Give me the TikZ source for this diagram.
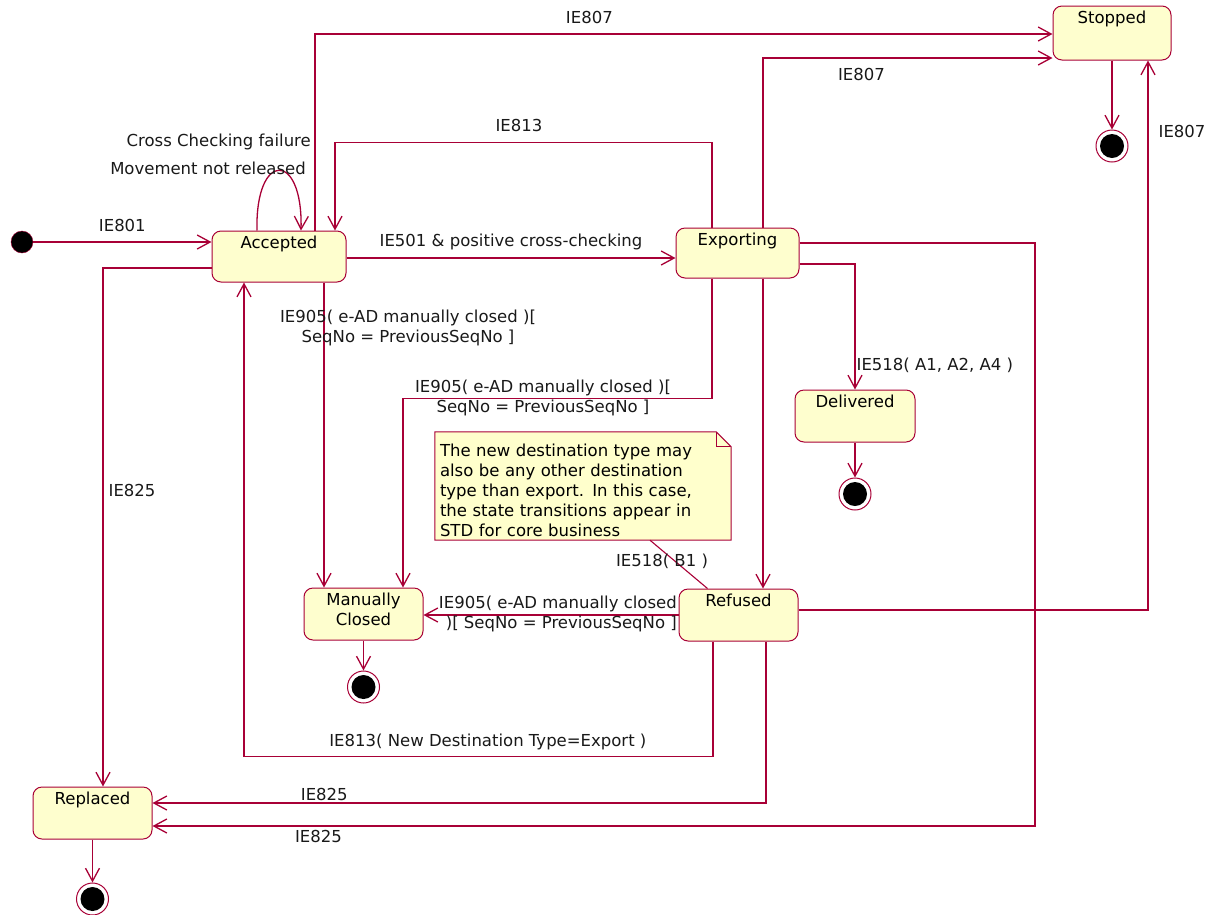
\documentclass[tikz,border=0pt]{standalone}
\usepackage{fontspec}
\setmainfont{DejaVu Sans}
\usepackage{tikz}
\usetikzlibrary{arrows.meta, positioning, calc, backgrounds}
\definecolor{umlred}{RGB}{168,0,54}
\definecolor{umlfill}{RGB}{254,254,206}
\definecolor{notefill}{RGB}{255,255,204}
\tikzset{
  basefont/.style={font=\fontsize{16.5}{20}\selectfont},
  statebox/.style={rectangle,rounded corners=9pt,draw=umlred,fill=umlfill,line width=1pt,inner sep=0pt},
  statename/.style={anchor=north,inner sep=0pt,yshift=-5pt,align=center,basefont},
  startdot/.style={circle,draw=umlred,fill=black,minimum size=22pt,inner sep=0pt},
  enddot/.style={circle,draw=umlred,line width=1pt,fill=white,minimum size=32pt,inner sep=0pt,
    path picture={\fill[black] (path picture bounding box.center) circle (12pt);}},
  notebox/.style={inner sep=5pt,align=left,basefont},
  lbl/.style={basefont,inner sep=2pt,text=black!90},
  trans/.style={draw=umlred,line width=1.3pt,-{Straight Barb[length=13pt,width=14pt]}},
  notelink/.style={draw=umlred,line width=1.1pt}
}

\begin{document}
\begin{tikzpicture}[x=1pt,y=-1pt]
  \useasboundingbox (0,0) rectangle (1211,914);

  %% States
  \node[startdot] (init) at (22,242) {};
  \node[statebox,minimum width=134pt,minimum height=51pt,label={[statename]north:Accepted}] (acc) at (279,256.5) {};
  \node[statebox,minimum width=123pt,minimum height=50pt,label={[statename]north:Exporting}] (exp) at (737.5,253) {};
  \node[statebox,minimum width=118pt,minimum height=54pt,label={[statename]north:Stopped}] (stop) at (1112,33) {};
  \node[statebox,minimum width=120pt,minimum height=52pt,label={[statename]north:Delivered}] (del) at (855,416) {};
  \node[statebox,minimum width=119pt,minimum height=52pt,label={[statename]north:Manually\\Closed}] (man) at (363.5,614) {};
  \node[statebox,minimum width=119pt,minimum height=52pt,label={[statename]north:Refused}] (ref) at (738.5,615) {};
  \node[statebox,minimum width=119pt,minimum height=52pt,label={[statename]north:Replaced}] (rep) at (92.5,813) {};

  %% Final states
  \node[enddot,below=69pt of stop] (stopend) {};
  \node[enddot,below=35pt of del] (delend) {};
  \node[enddot,below=30pt of man] (manend) {};
  \node[enddot,below=43pt of rep] (repend) {};

  %% Note
  \node[notebox,minimum width=296pt,minimum height=108pt,text width=286pt] (note) at (583,490)
    {The new destination type may\\also be any other destination\\type than export. In this case,\\the state transitions appear in\\STD for core business};
  \begin{scope}[on background layer]
    \filldraw[draw=umlred,fill=notefill,line width=1pt] ([yshift=4pt]note.north west) -- ([xshift=-15pt,yshift=4pt]note.north east)
      -- ([yshift=-11pt]note.north east) -- ([yshift=4pt]note.south east) -- ([yshift=4pt]note.south west) -- cycle;
    \draw[umlred,line width=0.8pt] ([xshift=-15pt,yshift=4pt]note.north east) |- ([yshift=-11pt]note.north east);
  \end{scope}

  %% Transitions out of Accepted
  \draw[trans] (init) -- (init -| acc.west) node[lbl,midway,above=8pt] (l801) {IE801};
  \draw[trans] ([xshift=-22pt]acc.north) .. controls +(-2,-80) and +(2,-80) .. ([xshift=22pt]acc.north);
  \node[lbl,anchor=east] (ccf) at (313,142) {Cross Checking failure};
  \node[lbl,anchor=east] (mnr) at (308,168) {Movement not released};
  \draw[trans] ([xshift=36pt]acc.north) |- ([yshift=-1pt]stop.west) node[lbl,pos=0.686,above=8pt] (l807a) {IE807};
  \draw[trans] ([yshift=-1.5pt]acc.east) -- ([yshift=-1.5pt]acc.east -| exp.west)
    node[lbl,midway,above=5pt] (l501) {IE501 \& positive cross-checking};
  \draw[trans] ([xshift=45pt]acc.south) -- ([xshift=45pt]acc.south |- man.north);
  \node[lbl,align=center] (l905a) at (408,328) {IE905( e-AD manually closed )[\\SeqNo = PreviousSeqNo ]};
  \draw[trans] ([yshift=-11.5pt]acc.west) -| ([xshift=10.5pt]rep.north) node[lbl,pos=0.715,right=3pt] (l825a) {IE825};

  %% Transitions out of Exporting
  \draw[trans] ([xshift=25.5pt]exp.north) |- ([yshift=-25pt]stop.west) node[lbl,pos=0.67,below=8pt] (l807b) {IE807};
  \draw[trans] ([xshift=-25.5pt]exp.north) -- ++(0,-85) -| ([xshift=56pt]acc.north) node[lbl,pos=0.256,above=8pt] (l813a) {IE813};
  \draw[trans] ([xshift=-25.5pt]exp.south) -- ++(0,120) -| ([xshift=39.5pt]man.north);
  \node[lbl,align=center] (l905b) at (543,398) {IE905( e-AD manually closed )[\\SeqNo = PreviousSeqNo ]};
  \draw[trans] ([yshift=-11pt]exp.east) -| (del.north) node[lbl,pos=0.905,anchor=west,inner sep=1pt] (l518a) {IE518( A1, A2, A4 )};
  \draw[trans] ([xshift=25.5pt]exp.south) -- ([xshift=25.5pt]exp.south |- ref.north);
  \coordinate (rtbend) at (1035,243);
  \draw[trans] ([yshift=10pt]exp.east) -- (rtbend) |- ([yshift=-13pt]rep.east) node[lbl,pos=0.906,below=2pt] (l825b) {IE825};

  %% Transitions out of Refused
  \draw[trans] ([yshift=5pt]ref.east) -| ([xshift=36pt]stop.south) node[lbl,pos=0.935,right=8pt] (l807c) {IE807};
  \draw[trans] (ref.west) -- (ref.west -| man.east);
  \node[lbl,align=right,anchor=east] (l905c) at (679,614) {IE905( e-AD manually closed\\)[ SeqNo = PreviousSeqNo ]};
  \draw[trans] ([xshift=-25.5pt]ref.south) -- ++(0,115) -| ([xshift=-35pt]acc.south)
    node[lbl,pos=0.24,above=4pt] (l813b) {IE813( New Destination Type=Export )};
  \draw[trans] ([xshift=27.5pt]ref.south) |- ([yshift=10pt]rep.east) node[lbl,pos=0.86,above=0pt] (l825c) {IE825};
  \draw[notelink] ([xshift=-31pt]ref.north) -- ([xshift=67pt,yshift=4pt]note.south);
  \node[lbl] (l518b) at (662,561) {IE518( B1 )};

  %% Into final states
  \draw[trans] (stop) -- (stopend);
  \draw[trans] (del) -- (delend);
  \draw[trans] (man) -- (manend);
  \draw[trans] (rep) -- (repend);
\end{tikzpicture}
\end{document}
